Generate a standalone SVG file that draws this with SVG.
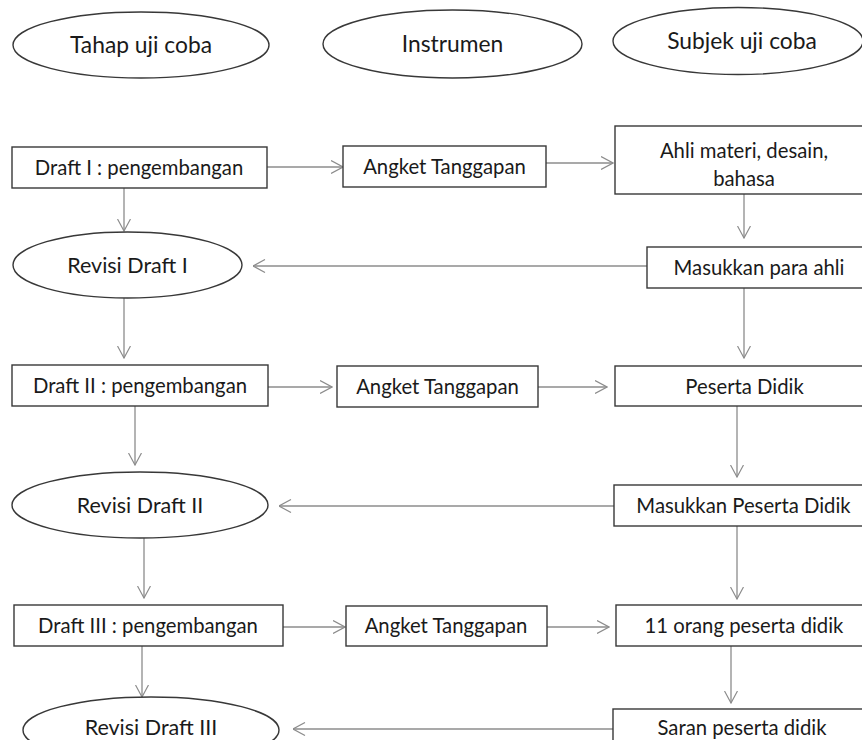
<svg xmlns="http://www.w3.org/2000/svg" width="862" height="740" viewBox="0 0 862 740">
<defs>
<style>
.n rect, .n ellipse { fill: #ffffff; stroke: #383838; stroke-width: 1.4; }
.n text { font-family: Lato, "Liberation Sans", sans-serif; fill: #1a1a1a; text-anchor: middle; }
.bt { font-size: 20.3px; }
.et { font-size: 21.5px; }
.ht { font-size: 22.8px; }
#edges line { stroke: #8c8c8c; stroke-width: 1.3; marker-end: url(#arr); }
</style>
<marker id="arr" viewBox="0 0 13 14" refX="12.5" refY="7" markerWidth="13" markerHeight="14" markerUnits="userSpaceOnUse" orient="auto">
<path d="M0.5,0.5 L12.5,7 L0.5,13.5" fill="none" stroke="#8c8c8c" stroke-width="1.2"/>
</marker>
</defs>
<rect width="862" height="740" fill="#ffffff"/>

<g id="edges">
<line x1="267" y1="167" x2="343" y2="167"/>
<line x1="546" y1="163" x2="613" y2="163"/>
<line x1="124" y1="188" x2="124" y2="231"/>
<line x1="744" y1="194" x2="744" y2="238"/>
<line x1="647" y1="266" x2="253" y2="266"/>
<line x1="124" y1="298" x2="124" y2="358"/>
<line x1="744" y1="288" x2="744" y2="358"/>
<line x1="268" y1="387" x2="332" y2="387"/>
<line x1="538" y1="387" x2="607" y2="387"/>
<line x1="135" y1="406" x2="135" y2="465"/>
<line x1="737" y1="406" x2="737" y2="477"/>
<line x1="614" y1="506" x2="279" y2="506"/>
<line x1="144" y1="538" x2="144" y2="598"/>
<line x1="737" y1="526" x2="737" y2="599"/>
<line x1="283" y1="627" x2="345" y2="627"/>
<line x1="547" y1="627" x2="609" y2="627"/>
<line x1="142" y1="646" x2="142" y2="697"/>
<line x1="731" y1="646" x2="731" y2="703"/>
<line x1="613" y1="729" x2="293" y2="729"/>
</g>

<g id="tahap" class="n"><ellipse cx="141" cy="45" rx="128" ry="33"/><text class="ht" x="141" y="53">Tahap uji coba</text></g>
<g id="instrumen" class="n"><ellipse cx="452.5" cy="44" rx="129.5" ry="34"/><text class="ht" x="452.5" y="52">Instrumen</text></g>
<g id="subjek" class="n"><ellipse cx="738" cy="41" rx="125" ry="33.5"/><text class="ht" x="742" y="49">Subjek uji coba</text></g>

<g id="draft1" class="n"><rect x="12" y="147" width="255" height="41"/><text class="bt" x="139" y="175">Draft I : pengembangan</text></g>
<g id="angket1" class="n"><rect x="343" y="146" width="203" height="41"/><text class="bt" x="444.5" y="174">Angket Tanggapan</text></g>
<g id="ahli" class="n"><rect x="615" y="126" width="257" height="68"/><text class="bt" x="744" y="158">Ahli materi, desain,</text><text class="bt" x="744" y="186">bahasa</text></g>

<g id="revisi1" class="n"><ellipse cx="127.5" cy="265" rx="114.5" ry="33"/><text class="et" x="127.5" y="273">Revisi Draft I</text></g>
<g id="masukkan1" class="n"><rect x="647" y="247" width="225" height="41"/><text class="bt" x="759" y="275">Masukkan para ahli</text></g>

<g id="draft2" class="n"><rect x="12" y="365" width="256" height="41"/><text class="bt" x="140" y="393">Draft II : pengembangan</text></g>
<g id="angket2" class="n"><rect x="337" y="366" width="201" height="41"/><text class="bt" x="437.5" y="394">Angket Tanggapan</text></g>
<g id="peserta" class="n"><rect x="615" y="366" width="257" height="40"/><text class="bt" x="744.5" y="394">Peserta Didik</text></g>

<g id="revisi2" class="n"><ellipse cx="140" cy="505" rx="128" ry="33"/><text class="et" x="140" y="513">Revisi Draft II</text></g>
<g id="masukkan2" class="n"><rect x="614" y="485" width="258" height="41"/><text class="bt" x="743.5" y="513">Masukkan Peserta Didik</text></g>

<g id="draft3" class="n"><rect x="14" y="605" width="269" height="41"/><text class="bt" x="148" y="633">Draft III : pengembangan</text></g>
<g id="angket3" class="n"><rect x="346" y="606" width="201" height="40"/><text class="bt" x="446" y="633">Angket Tanggapan</text></g>
<g id="sebelas" class="n"><rect x="616" y="605" width="256" height="41"/><text class="bt" x="744" y="633">11 orang peserta didik</text></g>

<g id="revisi3" class="n"><ellipse cx="151" cy="730" rx="128" ry="33"/><text class="et" x="151" y="735">Revisi Draft III</text></g>
<g id="saran" class="n"><rect x="613" y="709" width="259" height="50"/><text class="bt" x="742" y="735">Saran peserta didik</text></g>
</svg>
